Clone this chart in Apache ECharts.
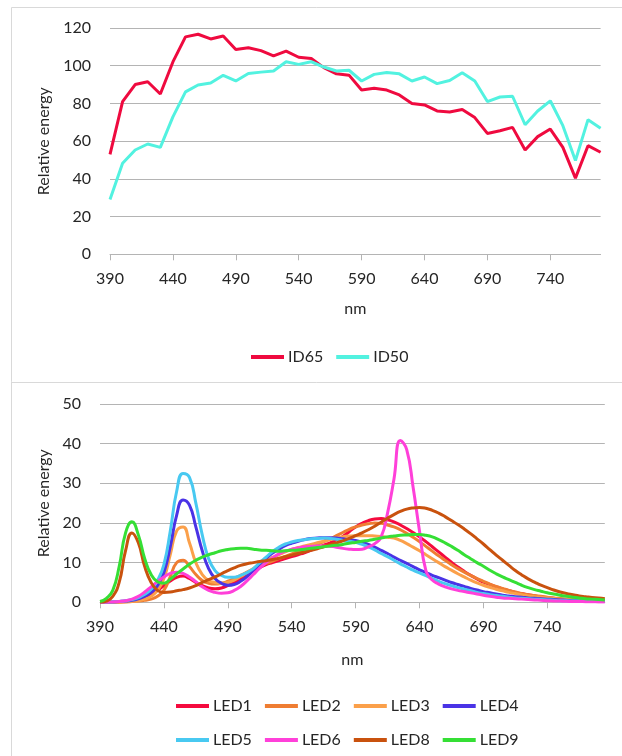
<!DOCTYPE html>
<html>
<head>
<meta charset="utf-8">
<title>Relative energy</title>
<script src="https://cdn.jsdelivr.net/npm/echarts@6/dist/echarts.min.js"></script>
<style>
  html, body { margin: 0; padding: 0; background: #fff; }
  #main { width: 622px; height: 756px; }
</style>
</head>
<body>
<div id="main"></div>
<script>
// top chart: illuminants, 10 nm steps
var nmTop = [];
for (var w = 390; w <= 780; w += 10) nmTop.push(String(w));
var id65 = [53, 81, 90, 91.5, 85, 102, 115.3, 116.7, 114.2, 115.8,
            108.6, 109.5, 108, 105.2, 107.7, 104.5, 103.8, 99, 95.7, 95,
            87.1, 88, 87.1, 84.5, 80, 79.2, 76, 75.5, 76.8, 72.5,
            64.1, 65.5, 67.3, 55.3, 62.4, 66.4, 56.7, 40.4, 57.6, 54.1];
var id50 = [29, 48.3, 55.3, 58.5, 56.7, 72.9, 86.1, 89.8, 90.8, 94.9,
            91.9, 95.9, 96.6, 97.2, 102.1, 100.7, 102.1, 99.3, 97.2, 97.6,
            91.9, 95.4, 96.4, 95.7, 91.9, 94, 90.5, 92.2, 96.3, 91.9,
            81, 83.4, 83.8, 68.7, 76, 81.4, 68.2, 49.7, 71.4, 66.9];

// bottom chart: LEDs, 5 nm steps 390..785
var nmLed = [];
for (var v = 390; v <= 785; v += 5) nmLed.push(String(v));
var led1 = [0, 0, 0, 0.1, 0.2, 0.4, 0.7, 1.2, 2, 3,
            4.2, 5.4, 6.3, 6.6, 6, 5, 4.2, 3.6, 3.4, 3.6,
            4.2, 5, 6, 7, 8, 8.8, 9.5, 10, 10.5, 11,
            11.5, 12, 12.5, 13.1, 13.8, 14.4, 15, 15.8, 16.6, 17.8,
            19, 19.9, 20.6, 21, 21.1, 20.8, 20.3, 19.5, 18.6, 17.6,
            16.5, 15.3, 14, 12.7, 11.4, 10.1, 8.9, 7.8, 6.8, 5.9,
            5.1, 4.5, 3.9, 3.4, 2.9, 2.5, 2.2, 1.9, 1.6, 1.4,
            1.2, 1, 0.8, 0.7, 0.6, 0.5, 0.4, 0.35, 0.3, 0.3];
var led2 = [0, 0, 0, 0, 0.1, 0.2, 0.3, 0.5, 0.8, 1.5,
            3, 6.5, 10, 10.6, 9, 7, 5.5, 4.8, 4.6, 4.8,
            5.3, 6, 6.8, 7.6, 8.4, 9.1, 9.8, 10.4, 11, 11.6,
            12.2, 12.8, 13.4, 14, 14.6, 15.3, 16, 16.8, 17.6, 18.4,
            19, 19.5, 19.8, 20, 19.9, 19.5, 19, 18.3, 17.4, 16.4,
            15.3, 14.1, 12.9, 11.7, 10.6, 9.5, 8.5, 7.6, 6.8, 6,
            5.3, 4.6, 4, 3.5, 3, 2.6, 2.2, 1.9, 1.7, 1.5,
            1.3, 1.1, 0.95, 0.8, 0.7, 0.6, 0.5, 0.45, 0.4, 0.35];
var led3 = [0, 0, 0, 0, 0.1, 0.2, 0.4, 0.8, 1.5, 3,
            6, 12, 18, 19, 15, 10, 7, 5.5, 5, 4.8,
            5, 5.6, 6.5, 7.5, 8.5, 9.5, 10.5, 11.3, 12, 12.7,
            13.3, 13.8, 14.2, 14.6, 15, 15.4, 15.8, 16.2, 16.5, 16.7,
            16.8, 16.8, 16.8, 16.7, 16.6, 16.4, 16.2, 15.6, 14.8, 13.9,
            13, 12, 11, 10, 9, 8.1, 7.2, 6.4, 5.6, 4.9,
            4.3, 3.8, 3.3, 2.9, 2.5, 2.2, 1.9, 1.6, 1.4, 1.25,
            1.1, 0.95, 0.8, 0.7, 0.6, 0.55, 0.5, 0.45, 0.4, 0.35];
var led4 = [0, 0, 0.1, 0.2, 0.3, 0.5, 0.9, 1.5, 2.5, 4.2,
            7.5, 14, 22, 25.8, 24.5, 19, 13, 8.5, 6, 4.8,
            4.3, 4.5, 5.3, 6.5, 8, 9.6, 11.1, 12.4, 13.4, 14.3,
            14.9, 15.4, 15.8, 16.1, 16.2, 16.3, 16.3, 16.2, 16, 15.8,
            15.6, 15.1, 14.6, 13.9, 13.1, 12.3, 11.4, 10.6, 9.8, 9,
            8.2, 7.5, 6.8, 6.2, 5.6, 5, 4.5, 4, 3.5, 3.1,
            2.7, 2.4, 2.1, 1.8, 1.6, 1.4, 1.3, 1.1, 1, 0.9,
            0.8, 0.7, 0.6, 0.5, 0.4, 0.35, 0.3, 0.28, 0.25, 0.2];
var led5 = [0, 0, 0.1, 0.2, 0.4, 0.7, 1.2, 2, 3.3, 5.5,
            9.5, 18, 28, 32.5, 31.5, 25, 17, 11, 8, 6.8,
            6.3, 6.3, 6.8, 7.5, 8.5, 10, 11.4, 12.8, 13.9, 14.7,
            15.2, 15.6, 15.8, 16, 16.1, 16.2, 16.1, 15.9, 15.6, 15.4,
            15.1, 14.6, 14, 13.2, 12.3, 11.5, 10.6, 9.7, 8.9, 8.1,
            7.4, 6.7, 6, 5.3, 4.7, 4.2, 3.7, 3.3, 2.9, 2.5,
            2.2, 1.9, 1.7, 1.5, 1.3, 1.1, 1, 0.9, 0.8, 0.7,
            0.6, 0.5, 0.4, 0.4, 0.3, 0.3, 0.25, 0.2, 0.2, 0.2];
var led6 = [0, 0, 0.1, 0.2, 0.4, 0.8, 1.5, 2.6, 3.9, 5.2,
            6.4, 7.3, 7.6, 7.3, 6.4, 5.2, 3.9, 3, 2.5, 2.3,
            2.4, 3, 4, 5.4, 7, 8.6, 10, 11.2, 12.2, 12.9,
            13.4, 13.7, 14, 14.1, 14.2, 14.2, 14.1, 13.9, 13.6, 13.4,
            13.3, 13.4, 14, 14.8, 16.5, 22.5, 31, 40.8, 38.5, 29,
            18, 8, 5.6, 4.6, 3.9, 3.4, 3, 2.7, 2.4, 2.1,
            1.8, 1.5, 1.3, 1.1, 1, 0.9, 0.8, 0.7, 0.6, 0.5,
            0.4, 0.35, 0.3, 0.25, 0.2, 0.2, 0.15, 0.15, 0.1, 0.1];
var led8 = [0, 0.3, 1.5, 5, 13, 17.5, 15, 9, 5, 3,
            2.5, 2.6, 2.9, 3.2, 3.6, 4.2, 5, 5.7, 6.4, 7.2,
            8, 8.7, 9.3, 9.7, 10, 10.3, 10.5, 10.8, 11.1, 11.5,
            11.9, 12.3, 12.7, 13.1, 13.5, 14, 14.5, 15, 15.5, 16.1,
            16.8, 17.5, 18.3, 19.2, 20.2, 21.2, 22.1, 22.9, 23.5, 23.8,
            23.9, 23.7, 23.2, 22.5, 21.6, 20.6, 19.6, 18.5, 17.3, 16,
            14.7, 13.3, 11.9, 10.6, 9.3, 8, 6.9, 5.9, 5.1, 4.3,
            3.7, 3.1, 2.6, 2.2, 1.9, 1.6, 1.4, 1.2, 1.1, 0.9];
var led9 = [0.2, 1, 3, 9, 17.5, 20.3, 17, 11, 7, 5.2,
            4.8, 5.8, 7.2, 8.4, 9.6, 10.6, 11.4, 12, 12.5, 13,
            13.3, 13.5, 13.6, 13.6, 13.4, 13.2, 13.1, 13, 12.9, 13,
            13.1, 13.2, 13.4, 13.6, 13.8, 14, 14.2, 14.4, 14.6, 14.9,
            15.1, 15.4, 15.6, 15.9, 16.2, 16.5, 16.7, 16.9, 17, 17.1,
            17.1, 16.9, 16.5, 15.8, 15, 14.1, 13.1, 12, 11, 10,
            9.1, 8.1, 7.2, 6.4, 5.7, 5, 4.3, 3.7, 3.2, 2.8,
            2.4, 2.1, 1.8, 1.5, 1.3, 1.1, 0.9, 0.8, 0.7, 0.6];

var font = 'Lato, "Open Sans", sans-serif';
var gridColor = '#b4b4b4';
var txt = '#262626';

function xCat(idx, cats, step, gap) {
  return {
    type: 'category', gridIndex: idx, data: cats, boundaryGap: false,
    name: 'nm', nameLocation: 'middle', nameGap: gap,
    nameTextStyle: { fontFamily: font, fontSize: 16, color: txt },
    axisLine: { lineStyle: { color: gridColor, width: 1 } },
    axisTick: { interval: step, length: 6, lineStyle: { color: gridColor } },
    axisLabel: { interval: step, margin: 17, fontFamily: font, fontSize: 16, color: txt },
    splitLine: { show: false }
  };
}
function yVal(idx, max, step, gap) {
  return {
    type: 'value', gridIndex: idx, min: 0, max: max, interval: step,
    name: 'Relative energy', nameLocation: 'middle', nameGap: gap,
    nameTextStyle: { fontFamily: font, fontSize: 16, color: txt },
    axisLine: { show: false }, axisTick: { show: false },
    axisLabel: { margin: 19, fontFamily: font, fontSize: 16, color: txt },
    splitLine: { lineStyle: { color: gridColor, width: 1.2 } }
  };
}
function ln(name, data, color, g, smooth) {
  return {
    name: name, type: 'line', xAxisIndex: g, yAxisIndex: g, data: data,
    symbol: 'none', smooth: smooth, animation: false,
    lineStyle: { color: color, width: 3 }, itemStyle: { color: color }
  };
}
function lg(names, left, top) {
  return {
    data: names, left: left, top: top, icon: 'rect',
    itemWidth: 33, itemHeight: 4, itemGap: 13,
    textStyle: { fontFamily: font, fontSize: 16, color: txt, padding: [0, 0, 0, -1] }
  };
}

var chart = echarts.init(document.getElementById('main'));
chart.setOption({
  backgroundColor: '#fff',
  animation: false,
  grid: [
    { left: 110, top: 28, width: 490.6, height: 226.3 },
    { left: 100, top: 404, width: 504.8, height: 198.3 }
  ],
  xAxis: [xCat(0, nmTop, 4, 47), xCat(1, nmLed, 9, 50)],
  yAxis: [yVal(0, 120, 20, 56), yVal(1, 50, 10, 46)],
  legend: [
    lg(['ID65', 'ID50'], 246, 344),
    lg(['LED1', 'LED2', 'LED3', 'LED4'], 171, 693),
    lg(['LED5', 'LED6', 'LED8', 'LED9'], 171, 727)
  ],
  graphic: [
    { type: 'polyline', shape: { points: [[11.5, 756], [11.5, 7.5], [622, 7.5]] },
      style: { stroke: '#d9d9d9', lineWidth: 1, fill: null } },
    { type: 'line', shape: { x1: 11.5, y1: 382.5, x2: 622, y2: 382.5 },
      style: { stroke: '#d9d9d9', lineWidth: 1 } }
  ],
  series: [
    ln('ID65', id65, '#ef0a3f', 0, false),
    ln('ID50', id50, '#52f2e0', 0, false),
    ln('LED1', led1, '#f50a3e', 1, true),
    ln('LED2', led2, '#ef7d32', 1, true),
    ln('LED3', led3, '#fba04a', 1, true),
    ln('LED4', led4, '#4a33e6', 1, true),
    ln('LED5', led5, '#48c9f1', 1, true),
    ln('LED6', led6, '#ff40d9', 1, true),
    ln('LED8', led8, '#c9520e', 1, true),
    ln('LED9', led9, '#35df35', 1, true)
  ]
});
window.onresize = chart.resize;
</script>
</body>
</html>
